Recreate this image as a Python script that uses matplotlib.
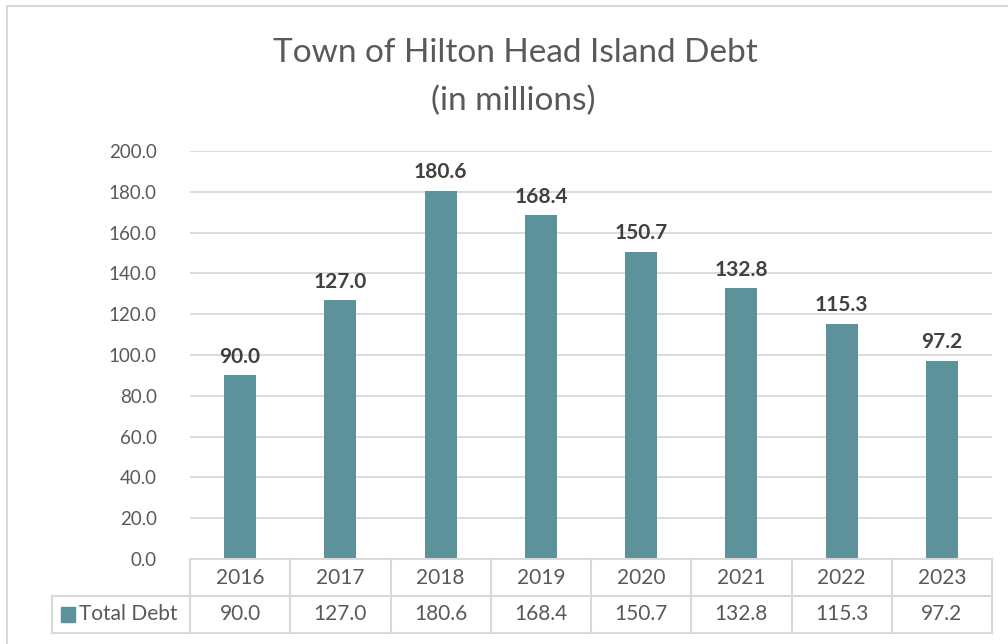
import matplotlib.pyplot as plt
from matplotlib.lines import Line2D
from matplotlib.patches import Rectangle
import numpy as np

years = ["2016", "2017", "2018", "2019", "2020", "2021", "2022", "2023"]
debt = [90.0, 127.0, 180.6, 168.4, 150.7, 132.8, 115.3, 97.2]
series_name = "Total Debt"
title_lines = ["Town of Hilton Head Island Debt", "(in millions)"]

bar_col = "#5E929B"
grid_col = "#D9D9D9"
txt_col = "#595959"

plt.rcParams["font.family"] = ["Lato", "DejaVu Sans"]

W, H = 1008, 644
fig = plt.figure(figsize=(W / 100, H / 100), dpi=100)
ax = fig.add_axes([190 / W, 1 - 559 / H, 802 / W, 408 / H])

x = np.arange(len(years))
ax.bar(x, debt, width=0.32, color=bar_col, zorder=3)
for xi, v in zip(x, debt):
    ax.annotate(f"{v:.1f}", (xi, v), xytext=(0, 6), textcoords="offset points",
                ha="center", va="bottom", fontsize=15, fontweight="bold", color="#404040")

ax.set_xlim(-0.5, len(years) - 0.5)
ax.set_ylim(0, 200)
ax.set_yticks(np.arange(0, 201, 20))
ax.set_yticklabels([f"{t:.1f}" for t in np.arange(0, 201, 20)])
ax.tick_params(axis="y", length=0, pad=24, labelsize=13.5, labelcolor=txt_col)
ax.set_xticks([])
ax.yaxis.grid(True, color=grid_col, linewidth=1.3, zorder=0)
for s in ax.spines.values():
    s.set_visible(False)

# data table under the plot
tr = ax.get_xaxis_transform()
r = 37 / 408
xl = (52 - 190) / (802 / len(years)) - 0.5
lk = dict(color=grid_col, linewidth=1.5, transform=tr, clip_on=False, zorder=4)
ax.add_line(Line2D([-0.5, len(years) - 0.5], [0, 0], **lk))
ax.add_line(Line2D([xl, len(years) - 0.5], [-r, -r], **lk))
ax.add_line(Line2D([xl, len(years) - 0.5], [-2 * r, -2 * r], **lk))
ax.add_line(Line2D([xl, xl], [-r, -2 * r], **lk))
for i in range(len(years) + 1):
    ax.add_line(Line2D([i - 0.5, i - 0.5], [0, -2 * r], **lk))
for xi, yr, v in zip(x, years, debt):
    ax.text(xi, -r / 2, yr, transform=tr, ha="center", va="center", fontsize=15, color=txt_col)
    ax.text(xi, -1.5 * r, f"{v:.1f}", transform=tr, ha="center", va="center", fontsize=15, color=txt_col)
ax.add_patch(Rectangle((xl + 0.09, -1.5 * r - 0.018), 0.14, 0.036, transform=tr,
                       color=bar_col, clip_on=False))
ax.text(xl + 0.27, -1.5 * r, series_name, transform=tr, ha="left", va="center",
        fontsize=15, color=txt_col)

# chart frame
fig.add_artist(Line2D([7 / W, 7 / W], [0, 1 - 6 / H], color=grid_col, linewidth=1.5))
fig.add_artist(Line2D([7 / W, 1], [1 - 6 / H, 1 - 6 / H], color=grid_col, linewidth=1.5))

fig.text(515 / W, 1 - 62 / H, title_lines[0], ha="center", va="baseline", fontsize=24, color=txt_col)
fig.text(513 / W, 1 - 110 / H, title_lines[1], ha="center", va="baseline", fontsize=24, color=txt_col)

fig.savefig("out.png", dpi=100)
